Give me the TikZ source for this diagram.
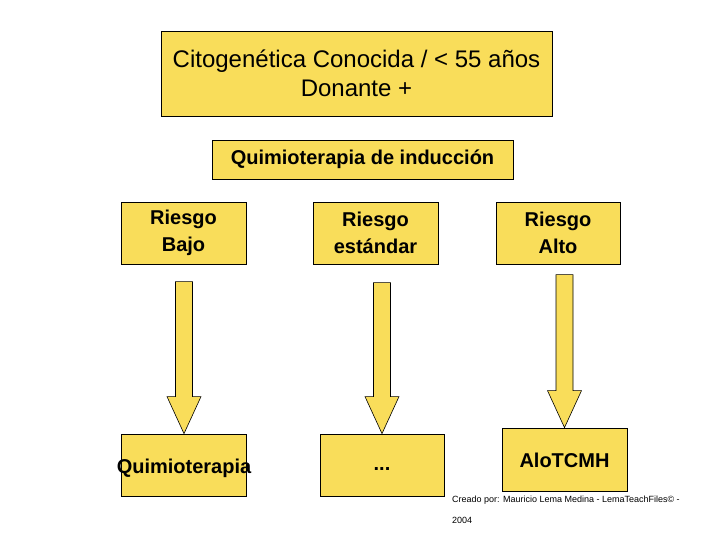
\documentclass[tikz,border=0pt]{standalone}
\usepackage{fontspec}
\setmainfont{Liberation Sans}
\usetikzlibrary{calc}
\definecolor{boxyellow}{RGB}{249,221,90}
\tikzset{
  box/.style={draw=black, line width=0.8pt, fill=boxyellow, inner sep=0pt, align=center},
  bigtxt/.style={font=\fontsize{24}{29}\selectfont},
  boldtxt/.style={font=\fontsize{20}{27}\selectfont\bfseries},
  yarrow/.style={draw=black, line width=0.6pt, fill=boxyellow, line join=miter},
  foot/.style={font=\fontsize{9}{10}\selectfont, anchor=west, inner sep=0pt}
}
\newcommand\blockarrow[2]{% #1 target node, #2 length from top to tip
  \coordinate (#1top) at ($(#1.north)+(0,-#2)$);
  \draw[yarrow] ($(#1top)+(-8.5,0)$) -- ($(#1.north)+(-8.5,-37)$) -- ($(#1.north)+(-17,-37)$)
    -- (#1.north) -- ($(#1.north)+(17,-37)$) -- ($(#1.north)+(8.5,-37)$) -- ($(#1top)+(8.5,0)$) -- cycle;
}
\begin{document}
\begin{tikzpicture}[x=1pt,y=-1pt]
\useasboundingbox (0,0) rectangle (720,540);
\node[box, bigtxt, minimum width=391pt, minimum height=85pt] (top) at (356.5,73.5)
  {Citogenética Conocida / < 55 años\\Donante +};
\node[box, boldtxt, minimum width=301pt, minimum height=39pt] (ind) at (362.5,159.5)
  {Quimioterapia de inducción};
\node[box, boldtxt, minimum width=125pt, minimum height=62pt] (rb) at (183.5,233) {Riesgo\\Bajo};
\node[box, boldtxt, minimum width=125pt, minimum height=62pt] (re) at (375.5,233) {Riesgo\\estándar};
\node[box, boldtxt, minimum width=124pt, minimum height=62pt] (ra) at (558,233) {Riesgo\\Alto};
\node[box, minimum width=125pt, minimum height=62pt,
  label={[boldtxt, inner sep=0pt, yshift=-3.5pt]center:Quimioterapia}] (q1) at (184,465) {};
\node[box, minimum width=124pt, minimum height=62pt,
  label={[boldtxt, inner sep=0pt, yshift=-4.5pt]center:...}] (q2) at (382,465) {};
\node[box, minimum width=125pt, minimum height=63pt] (q3) at (564.5,459.5) {};
\node[boldtxt, inner sep=0pt] (q3t) at (564.5,460) {AloTCMH};
\blockarrow{q1}{152}
\blockarrow{q2}{151}
\blockarrow{q3}{153}
\node[foot] (f1) at (452,500) {Creado por: Mauricio Lema Medina - LemaTeachFiles© -};
\node[foot] (f2) at (452,520) {2004};
\end{tikzpicture}
\end{document}
